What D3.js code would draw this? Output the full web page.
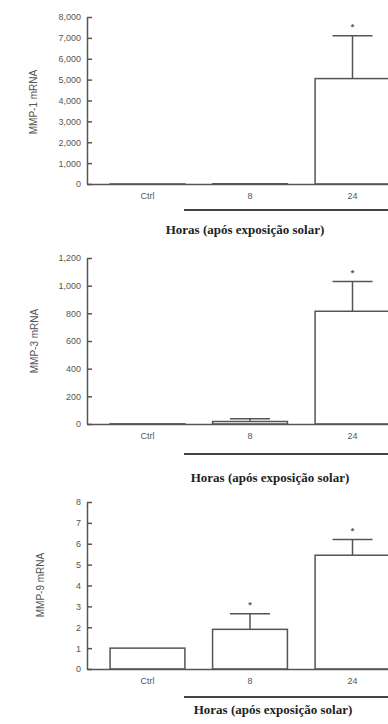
<!DOCTYPE html>
<html>
<head>
<meta charset="utf-8">
<script src="https://cdn.jsdelivr.net/npm/d3@7"></script>
<style>
  body { margin: 0; background: #fff; }
  svg { display: block; }
</style>
</head>
<body>
<script>
const w = 388;
const h = 724;

// data
const categories = ["Ctrl", "8", "24"];

const mmp1 = [1, 10, 5050];
const mmp1Upper = [null, null, 7100];
const mmp1Sig = [false, false, true];
const mmp1Ticks = [0, 1000, 2000, 3000, 4000, 5000, 6000, 7000, 8000];

const mmp3 = [1, 18, 815];
const mmp3Upper = [null, 38, 1030];
const mmp3Sig = [false, false, true];
const mmp3Ticks = [0, 200, 400, 600, 800, 1000, 1200];

const mmp9 = [1, 1.9, 5.45];
const mmp9Upper = [null, 2.65, 6.2];
const mmp9Sig = [false, true, true];
const mmp9Ticks = [0, 1, 2, 3, 4, 5, 6, 7, 8];

const xTitle = "Horas (após exposição solar)";

const ink = "#555";
const textInk = "#555";

const panels = [
  { label: "MMP-1 mRNA", values: mmp1, upper: mmp1Upper, sig: mmp1Sig, ticks: mmp1Ticks,
    top: 17, base: 184, lx: 33, ly: 102, lineY: 210, tx: 245, ty: 234 },
  { label: "MMP-3 mRNA", values: mmp3, upper: mmp3Upper, sig: mmp3Sig, ticks: mmp3Ticks,
    top: 258, base: 424, lx: 34, ly: 341, lineY: 454, tx: 270, ty: 482 },
  { label: "MMP-9 mRNA", values: mmp9, upper: mmp9Upper, sig: mmp9Sig, ticks: mmp9Ticks,
    top: 502, base: 669, lx: 40, ly: 585, lineY: 697, tx: 273, ty: 714 }
];

const svg = d3
  .select("body")
  .append("svg")
  .attr("width", w)
  .attr("height", h);

const axisX = 87;

const xScale = d3
  .scaleBand()
  .domain(categories)
  .range([axisX, 413])
  .paddingInner(0.27)
  .paddingOuter(0.225);

panels.forEach(p => {
  const yScale = d3
    .scaleLinear()
    .domain([0, d3.max(p.ticks)])
    .range([p.base, p.top]);

  const g = svg.append("g");

  // bars
  g.selectAll("rect")
    .data(p.values)
    .enter()
    .append("rect")
    .attr("x", (d, i) => xScale(categories[i]))
    .attr("y", d => yScale(d))
    .attr("width", xScale.bandwidth())
    .attr("height", d => p.base - yScale(d))
    .attr("fill", "#fff")
    .attr("stroke", ink)
    .attr("stroke-width", 1.5);

  // error bars (upper only)
  p.values.forEach((d, i) => {
    if (p.upper[i] == null) return;
    const cx = xScale(categories[i]) + xScale.bandwidth() / 2;
    g.append("line")
      .attr("x1", cx).attr("x2", cx)
      .attr("y1", yScale(d)).attr("y2", yScale(p.upper[i]))
      .attr("stroke", ink).attr("stroke-width", 1.5);
    g.append("line")
      .attr("x1", cx - 20).attr("x2", cx + 20)
      .attr("y1", yScale(p.upper[i])).attr("y2", yScale(p.upper[i]))
      .attr("stroke", ink).attr("stroke-width", 1.5);
    if (p.sig[i]) {
      g.append("text")
        .attr("x", cx)
        .attr("y", yScale(p.upper[i]) - 6)
        .attr("text-anchor", "middle")
        .style("font-family", "Liberation Sans, Arial, sans-serif")
        .style("font-size", "9px")
        .style("font-weight", "bold")
        .attr("fill", ink)
        .text("*");
    }
  });

  // y-axis
  const yAxis = d3
    .axisLeft(yScale)
    .tickValues(p.ticks)
    .tickFormat(d3.format(","))
    .tickSizeInner(-5)
    .tickSizeOuter(0)
    .tickPadding(6);

  const ya = g.append("g")
    .attr("transform", "translate(" + axisX + ",0)")
    .call(yAxis);
  ya.select(".domain").attr("stroke", ink).attr("stroke-width", 1.5);
  ya.selectAll(".tick line").attr("stroke", ink).attr("stroke-width", 1.5);
  ya.selectAll(".tick text")
    .attr("fill", textInk)
    .style("font-family", "Liberation Sans, Arial, sans-serif")
    .style("font-size", "9px");

  // x-axis
  const xAxis = d3.axisBottom(xScale).tickSize(0).tickPadding(9);
  const xa = g.append("g")
    .attr("transform", "translate(0," + p.base + ")")
    .call(xAxis);
  xa.select(".domain").attr("stroke", ink).attr("stroke-width", 1.5);
  xa.selectAll(".tick text")
    .attr("fill", textInk)
    .style("font-family", "Liberation Sans, Arial, sans-serif")
    .style("font-size", "9px");

  // y label
  g.append("text")
    .attr("transform", "translate(" + p.lx + "," + p.ly + ") rotate(-90)")
    .attr("text-anchor", "middle")
    .attr("dy", "0.35em")
    .attr("fill", textInk)
    .style("font-family", "Liberation Sans, Arial, sans-serif")
    .style("font-size", "10px")
    .text(p.label);

  // line under the hour groups
  g.append("line")
    .attr("x1", 184).attr("x2", w)
    .attr("y1", p.lineY).attr("y2", p.lineY)
    .attr("stroke", "#444").attr("stroke-width", 2);

  // x title
  g.append("text")
    .attr("x", p.tx)
    .attr("y", p.ty)
    .attr("text-anchor", "middle")
    .attr("fill", "#222")
    .style("font-family", "Liberation Serif, serif")
    .style("font-weight", "bold")
    .style("font-size", "13px")
    .text(xTitle);
});
</script>
</body>
</html>
